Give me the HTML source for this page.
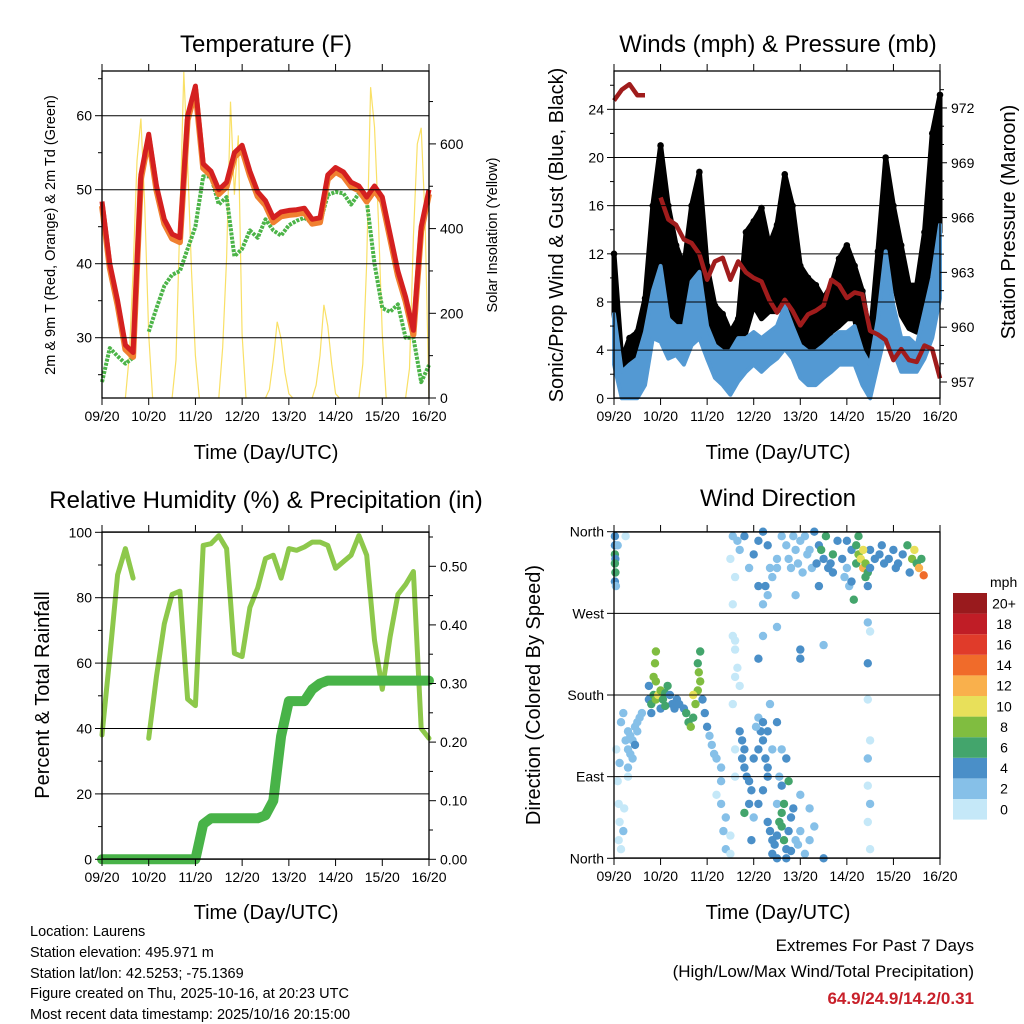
<!DOCTYPE html>
<html><head><meta charset="utf-8"><style>
html,body{margin:0;padding:0;background:#fff;}
svg{display:block;font-family:"Liberation Sans",Arial,sans-serif;}
</style></head><body>
<svg id="chart" width="1024" height="1024" viewBox="0 0 1024 1024" xmlns="http://www.w3.org/2000/svg">
<rect x="0" y="0" width="1024" height="1024" fill="#fff"/>
<text x="266" y="52" font-size="24" text-anchor="middle">Temperature (F)</text>
<text x="778" y="52" font-size="24" text-anchor="middle">Winds (mph) &amp; Pressure (mb)</text>
<text x="266" y="508" font-size="24" text-anchor="middle">Relative Humidity (%) &amp; Precipitation (in)</text>
<text x="778" y="506" font-size="24" text-anchor="middle">Wind Direction</text>
<text x="266" y="459" font-size="20" text-anchor="middle">Time (Day/UTC)</text>
<text x="778" y="459" font-size="20" text-anchor="middle">Time (Day/UTC)</text>
<text x="266" y="919" font-size="20" text-anchor="middle">Time (Day/UTC)</text>
<text x="778" y="919" font-size="20" text-anchor="middle">Time (Day/UTC)</text>
<text transform="translate(55,235) rotate(-90)" font-size="14.5" text-anchor="middle">2m &amp; 9m T (Red, Orange) &amp; 2m Td (Green)</text>
<text transform="translate(497,235) rotate(-90)" font-size="14.5" text-anchor="middle">Solar Insolation (Yellow)</text>
<text transform="translate(563,235) rotate(-90)" font-size="20" text-anchor="middle">Sonic/Prop Wind &amp; Gust (Blue, Black)</text>
<text transform="translate(1015,222) rotate(-90)" font-size="20" text-anchor="middle">Station Pressure (Maroon)</text>
<text transform="translate(49,695) rotate(-90)" font-size="20" text-anchor="middle">Percent &amp; Total Rainfall</text>
<text transform="translate(540,695) rotate(-90)" font-size="20" text-anchor="middle">Direction (Colored By Speed)</text>
<g font-size="14.5">
<text x="30" y="936">Location: Laurens</text>
<text x="30" y="957">Station elevation: 495.971 m</text>
<text x="30" y="978">Station lat/lon: 42.5253; -75.1369</text>
<text x="30" y="998">Figure created on Thu, 2025-10-16, at 20:23 UTC</text>
<text x="30" y="1019">Most recent data timestamp: 2025/10/16 20:15:00</text>
</g>
<text x="974" y="951" font-size="17" text-anchor="end">Extremes For Past 7 Days</text>
<text x="974" y="977" font-size="17" text-anchor="end">(High/Low/Max Wind/Total Precipitation)</text>
<text x="974" y="1004" font-size="17" font-weight="bold" fill="#c8202a" text-anchor="end">64.9/24.9/14.2/0.31</text>
</svg>
<script>
// ---- data (4-hour samples, 7 days) ----
const dayLabels = ["09/20","10/20","11/20","12/20","13/20","14/20","15/20","16/20"];
const temp2m = [48.4,40,35,29,28,52,57.5,50.5,46,44,43.5,60,64,53.5,52.5,50,51,55,56,52.5,49.7,48.5,46.2,47,47.2,47.3,47.5,46,46.2,52,53,52.4,51,50.5,49,50.5,49,44,39,35.5,31,45,50];
const dewPt = [24,28.6,27.5,26.5,27.3,null,30.8,34,37,38.5,39,42,45,51.8,51.8,48,49,41,42,44.5,43.5,46,44.5,43.8,45.2,45.8,46.2,45.5,45.5,49.3,49.7,49.5,48,49.5,48.5,40,34,33.5,34.5,30,30,24,26.3];
const solarHours = [14,16,18,20,22,24];
const solarByDay = [[100,300,560,660,450,150],[90,420,770,560,300,100],[120,330,700,480,620,150],[20,90,180,140,60,10],[30,100,220,170,80,10],[80,320,734,640,420,150],[70,380,600,638,420,0]];
const gustHi = [12,3.2,5,5.5,8.3,16,21,16,12.7,11,16,18.8,11,7.7,7,5.5,6.6,13.8,14.7,15.8,12.7,14.4,18.6,16,11,10,9.4,8.3,9.4,11.6,12.7,11,8.9,5,12.2,20,16,12.7,9.4,9.4,13.8,22,25.2];
const gustLo = [7,1,1.7,2.2,4.1,9.7,11,7.7,6,5.5,6,8.3,5.5,2.8,2.2,1.7,2.5,5.5,7.7,6.6,7.2,7.2,7.7,6.6,5,3.3,3.9,4.4,5.5,6,6.6,6.6,3.3,1.9,6.9,11,9.7,6.9,5.8,5.5,6.6,12.2,13.8];
const windHi = [7,2.2,2.8,3.3,5.5,8.9,11,6.6,6,6,9.7,10.5,6,4.4,3.9,3.9,5,5,5.5,5,5.5,6,7.7,6,4.4,3.9,3.9,4.4,5,5.5,5.5,6,3.9,2.8,6.6,12.2,7.7,5,5,4.4,7.2,10,14.4];
const windLo = [2.8,0,0,0,1.1,5,4.7,3.3,3.6,2.8,4.4,5,3.3,1.7,1.1,0.3,1.4,2.2,2.8,2.2,2.8,3.3,4.1,3.3,1.7,1.1,1.1,1.7,2.2,2.8,2.8,2.8,1.1,0,2.8,5.5,3.9,2.2,2.2,2.2,3.3,5,8.3];
const pressure = [972.4,973.0,973.3,972.7,972.7,null,967.1,965.9,965.6,964.8,964.6,964.0,962.6,963.6,963.8,962.6,963.6,963.0,962.7,962.5,961.5,960.8,961.5,960.9,960.1,960.7,960.9,961.2,962.6,962.3,961.6,961.9,961.8,959.8,959.6,959.3,958.2,958.8,958.2,958.1,959.0,958.8,957.2];
const relHum = [38,62,87,95,86,null,37,56,72,81,82,49,47,96,96.5,99,95,63,62,77,83,92,93,86,95,94.5,95.5,97,97,96,89,91,93,99,93,67,52,68,81,84,88,40,37];
const precip = [0,0,0,0,0,0,0,0,0,0,0,0,0,0.06,0.07,0.07,0.07,0.07,0.07,0.07,0.07,0.075,0.10,0.21,0.27,0.27,0.27,0.29,0.30,0.305,0.305,0.305,0.305,0.305,0.305,0.305,0.305,0.305,0.305,0.305,0.305,0.305,0.305];
const dirObs = [
[0.02,355,4],[0.02,345,4],[0.02,335,6],[0.03,330,4],[0.02,325,6],[0.03,315,6],[0.02,305,4],[0.04,300,2],[0.08,345,2],[0.25,355,0],
[0.05,120,0],[0.08,85,0],[0.1,60,0],[0.12,40,0],[0.1,20,0],[0.15,10,0],[0.2,30,2],[0.22,55,0],[0.3,90,0],[0.3,120,2],[0.25,130,2],[0.3,140,2],[0.35,135,2],[0.4,130,2],[0.45,145,2],[0.5,150,2],[0.55,155,2],[0.35,115,2],[0.4,110,2],[0.45,125,4],[0.5,140,2],[0.6,160,2],[0.15,150,2],[0.2,160,2],[0.12,105,2],[0.3,100,2],
[0.75,175,4],[0.8,170,6],[0.85,180,6],[0.9,175,8],[0.95,180,10],[1.0,185,8],[1.05,175,6],[0.9,195,8],[0.85,200,8],[0.88,215,8],[0.9,228,8],[0.8,160,4],[0.75,190,4],[1.1,182,6],[1.15,190,6],[1.2,180,4],[1.25,170,4],[1.3,165,4],[1.35,175,4],[1.4,170,4],[1.5,165,4],[1.55,160,6],[1.6,150,6],[1.65,145,8],[1.7,155,6],[1.75,170,8],[1.8,185,8],[1.85,195,8],[1.8,215,6],[1.85,228,6],[1.82,205,8],[1.7,180,10],[1.9,175,4],[1.95,160,4],[2.0,145,4],[1.0,165,4],[1.1,168,6],
[2.05,135,2],[2.1,125,2],[2.15,115,2],[2.2,110,2],[2.3,100,2],[2.3,85,2],[2.2,70,0],[2.3,60,2],[2.4,45,2],[2.35,30,2],[2.4,10,2],[2.5,25,0],[2.5,5,0],[2.6,90,0],[2.6,120,0],[2.55,170,0],[2.6,200,0],[2.6,240,0],[2.55,280,0],[2.6,310,0],[2.5,330,0],[2.65,350,2],[2.65,210,0],[2.6,230,0],[2.7,190,0],[2.55,245,0],
[2.7,140,4],[2.75,130,4],[2.8,120,4],[2.75,110,4],[2.8,100,4],[2.85,90,4],[2.9,85,4],[2.95,75,4],[3.0,110,4],[3.1,120,4],[3.15,140,4],[3.2,130,4],[3.25,110,4],[3.3,100,4],[3.05,145,2],[3.1,155,2],[3.2,150,4],[3.3,90,4],[2.9,60,4],[3.0,45,2],[3.1,60,4],[3.2,75,4],[3.35,170,2],[3.5,150,4],[3.6,120,2],[3.55,90,2],[3.1,220,4],[3.2,245,2],[3.2,280,2],[3.25,300,4],[3.5,320,2],[2.95,20,4],[2.8,50,6],[3.3,140,4],[3.4,120,2],
[3.3,40,4],[3.35,30,4],[3.4,20,4],[3.45,15,4],[3.5,25,4],[3.55,40,6],[3.6,35,6],[3.65,20,6],[3.7,10,4],[3.75,30,4],[3.8,45,4],[3.85,55,4],[3.9,20,2],[3.95,15,2],[4.0,30,2],[4.1,5,2],[4.2,20,2],[4.3,35,2],[3.4,5,4],[3.5,0,4],[3.7,0,4],[3.75,85,6],[3.7,110,4],[3.6,80,4],[4.0,70,2],[3.8,8,4],[3.5,60,2],[4.2,55,2],[4.5,0,4],[3.6,50,6],[3.65,60,6],
[2.55,355,2],[2.7,340,2],[2.8,355,4],[2.9,320,2],[3.0,335,4],[3.1,350,4],[3.2,360,4],[3.3,345,4],[3.35,320,2],[3.1,300,4],[3.4,310,2],[3.5,330,2],[3.6,355,2],[3.7,345,2],[3.75,330,2],[3.8,320,2],[3.9,340,2],[4.0,350,2],[4.1,355,2],[4.2,340,2],[4.3,360,4],[4.4,345,4],[4.5,330,4],[4.6,320,4],[4.7,335,6],[4.8,350,4],[3.85,355,2],[3.95,325,2],[4.05,315,2],[4.15,335,2],[4.25,320,2],[4.35,325,4],[4.45,340,6],[4.55,355,6],[4.65,325,4],[3.3,290,2],[3.9,290,2],[4.4,300,4],[4.0,230,4],[4.0,220,4],[4.5,235,2],[3.5,255,2],[4.7,315,4],
[4.9,330,4],[5.0,320,2],[5.05,300,2],[5.1,340,4],[5.2,325,6],[5.25,335,8],[5.3,330,10],[5.35,320,12],[5.4,325,8],[5.45,315,6],[5.5,340,4],[5.6,330,4],[5.7,335,4],[5.8,325,4],[5.9,330,4],[6.0,340,4],[6.1,325,4],[6.2,335,4],[6.3,345,6],[6.4,330,8],[6.45,340,10],[6.5,325,6],[6.55,320,12],[6.6,330,6],[6.65,312,14],[5.2,345,6],[5.35,340,10],[5.4,310,6],[5.1,305,4],[5.0,350,4],[5.5,320,4],[5.75,345,4],[6.35,315,4],[6.05,320,4],[5.25,355,6],[4.95,310,2],[5.15,285,6],[5.45,300,4],
[5.45,260,2],[5.5,250,0],[5.45,215,4],[5.45,110,2],[5.5,130,0],[5.45,80,0],[5.5,60,2],[5.45,40,0],[5.5,10,0],[5.45,175,0]
];
const dirDay = dirObs.map(p => p[0]);
const dirDeg = dirObs.map(p => p[1]);
const dirSpd = dirObs.map(p => p[2]);
const speedLabels = ["0","2","4","6","8","10","12","14","16","18","20+"];
const speedColors = ["#c5e8f8","#86c0e8","#4a8fc8","#43a56c","#80bd40","#e8e05a","#f9b04c","#f06b2a","#e03b2a","#c01d26","#991a1d"];
const tempTicks = [30,40,50,60];
const solarTicks = [0,200,400,600];
const windTicks = [0,4,8,12,16,20,24];
const presTicks = [957,960,963,966,969,972];
const rhTicks = [0,20,40,60,80,100];
const prTicks = ["0.00","0.10","0.20","0.30","0.40","0.50"];
const dirTicks = [0,90,180,270,360];
const dirNames = ["North","East","South","West","North"];

// ---- geometry ----
const NS = "http://www.w3.org/2000/svg";
const svg = document.getElementById("chart");
const STEP = 1/6;
const P1 = {x0:102,x1:429,y0:71,y1:398};
const P2 = {x0:614,x1:940,y0:71,y1:398};
const P3 = {x0:102,x1:429,y0:532,y1:859};
const P4 = {x0:614,x1:940,y0:532,y1:858};
function xs(P, d){ return P.x0 + d/7*(P.x1-P.x0); }
const yT = v => 115.7 + (60-v)*7.4;
const yS = v => 398 - v*0.4235;
const yW = v => 398.3 - v*12.04;
const yP = v => 382 - (v-957)*18.27;
const yRH = v => 859.3 - v*3.27;
const yPr = v => 859.3 - v*586;
const yD = v => 858.3 - v*0.9072;
function el(tag, attrs, parent){
  const e = document.createElementNS(NS, tag);
  for (const k in attrs) e.setAttribute(k, attrs[k]);
  (parent||svg).appendChild(e);
  return e;
}
function linePath(P, arr, yf){
  let d = "", pen = false;
  arr.forEach((v,i)=>{
    if (v === null){ pen = false; return; }
    d += (pen ? "L" : "M") + xs(P,i*STEP).toFixed(1) + " " + yf(v).toFixed(1);
    pen = true;
  });
  return d;
}
function band(P, hi, lo, yf){
  let d = "";
  hi.forEach((v,i)=>{ d += (i?"L":"M") + xs(P,i*STEP).toFixed(1)+" "+yf(v).toFixed(1); });
  for (let i=lo.length-1;i>=0;i--) d += "L" + xs(P,i*STEP).toFixed(1)+" "+yf(lo[i]).toFixed(1);
  return d + "Z";
}
function frame(P, name, gridVals, yf, leftLabels, leftMinor, rightVals, yr, rightLabels, rightMinor){
  const g = el("g", {});
  
  
  gridVals.forEach((v,i)=>{
    const y = yf(v);
    const gl = el("line", {x1:P.x0, x2:P.x1, y1:y, y2:y, stroke:"#000", "stroke-width":1}, g);
    
    
    const t = el("line", {x1:P.x0-7, x2:P.x0, y1:y, y2:y, stroke:"#000"}, g);
    
    
    const tx = el("text", {x:P.x0-10, y:y+5, "font-size":14, "text-anchor":"end"}, g);
    
    
    tx.textContent = leftLabels[i];
  });
  leftMinor.forEach(v=>{
    const y = yf(v);
    const t = el("line", {x1:P.x0-4, x2:P.x0, y1:y, y2:y, stroke:"#000"}, g);
    
    
  });
  if (rightVals){
    rightVals.forEach((v,i)=>{
      const y = yr(v);
      const t = el("line", {x1:P.x1, x2:P.x1+7, y1:y, y2:y, stroke:"#000"}, g);
      
      
      const tx = el("text", {x:P.x1+11, y:y+5, "font-size":14}, g);
      
      
      tx.textContent = rightLabels[i];
    });
    rightMinor.forEach(v=>{
      const y = yr(v);
      const t = el("line", {x1:P.x1, x2:P.x1+4, y1:y, y2:y, stroke:"#000"}, g);
      
      
    });
  }
  dayLabels.forEach((lab,i)=>{
    const x = xs(P,i);
    const tb = el("line", {x1:x, x2:x, y1:P.y1, y2:P.y1+7, stroke:"#000"}, g);
    
    
    const tt = el("line", {x1:x, x2:x, y1:P.y0-7, y2:P.y0, stroke:"#000"}, g);
    
    
    const tx = el("text", {x:x, y:P.y1+23, "font-size":14, "text-anchor":"middle"}, g);
    
    
    tx.textContent = lab;
  });
  const b = el("rect", {x:P.x0, y:P.y0, width:P.x1-P.x0, height:P.y1-P.y0, fill:"none", stroke:"#000", "stroke-width":1.3}, g);
  
  
}

// ---- Panel 1: temperature ----
const g1 = el("g", {});


solarByDay.forEach((vals,dayI)=>{
  let d = "M" + xs(P1, dayI + 12/24).toFixed(1) + " " + yS(0);
  vals.forEach((v,j)=>{ d += "L" + xs(P1, dayI + solarHours[j]/24).toFixed(1) + " " + yS(v).toFixed(1); });
  d += "L" + xs(P1, Math.min(7, dayI + 26/24)).toFixed(1) + " " + yS(0);
  const s = el("path", {d:d, fill:"none", stroke:"#f7d840", "stroke-width":1.2, opacity:0.8}, g1);
  
  
});
const dew = el("path", {d:linePath(P1, dewPt, yT), fill:"none", stroke:"#4cb448", "stroke-width":4, "stroke-dasharray":"3 1.2", "stroke-linejoin":"round"}, g1);


const t9 = el("path", {d:linePath(P1, temp2m.map(v=>v-0.6), yT), fill:"none", stroke:"#f08030", "stroke-width":6, "stroke-linejoin":"round"}, g1);


const t2 = el("path", {d:linePath(P1, temp2m, yT), fill:"none", stroke:"#d42020", "stroke-width":5, "stroke-linejoin":"round"}, g1);


frame(P1, "temperature", tempTicks, yT, tempTicks.map(String), [25,35,45,55,65], solarTicks, yS, solarTicks.map(String), [100,300,500,700]);

// ---- Panel 2: winds ----
const g2 = el("g", {});


const gb = el("path", {d:band(P2, gustHi, gustLo, yW), fill:"#000", stroke:"#000", "stroke-width":5, "stroke-linejoin":"round"}, g2);


gustHi.forEach((v,i)=>{
  const c = el("circle", {cx:xs(P2,i*STEP), cy:yW(v), r:3.3, fill:"#000"}, g2);
  
  
});
const wb = el("path", {d:band(P2, windHi, windLo, yW), fill:"#5399d3", stroke:"#5399d3", "stroke-width":4, "stroke-linejoin":"round"}, g2);


const pl = el("path", {d:linePath(P2, pressure, yP), fill:"none", stroke:"#a01c1c", "stroke-width":4.5, "stroke-linejoin":"round"}, g2);


frame(P2, "winds", windTicks, yW, windTicks.map(String), [2,6,10,14,18,22,26], presTicks, yP, presTicks.map(String), [958,959,961,962,964,965,967,968,970,971,973]);

// ---- Panel 3: humidity ----
const g3 = el("g", {});


const rh = el("path", {d:linePath(P3, relHum, yRH), fill:"none", stroke:"#8dc84b", "stroke-width":5, "stroke-linejoin":"round", "stroke-linecap":"round"}, g3);


const pr = el("path", {d:linePath(P3, precip, yPr), fill:"none", stroke:"#48b348", "stroke-width":10, "stroke-linejoin":"round", "stroke-linecap":"round"}, g3);


frame(P3, "humidity", rhTicks, yRH, rhTicks.map(String), [10,30,50,70,90], prTicks.map(Number), yPr, prTicks, [0.05,0.15,0.25,0.35,0.45,0.55]);

// ---- Panel 4: wind direction ----
const g4 = el("g", {});


frame(P4, "direction", dirTicks, yD, dirNames, [], null);
dirDay.forEach((d,i)=>{
  const ci = Math.min(10, Math.round(dirSpd[i]/2));
  const c = el("circle", {cx:xs(P4,d).toFixed(1), cy:yD(dirDeg[i]).toFixed(1), r:4.2, fill:speedColors[ci]}, g4);
  
  
});

// ---- colorbar ----
const cb = el("g", {});


const cbTop = 593, cbH = 20.6;
const mphT = el("text", {x:990, y:587, "font-size":14}, cb);


mphT.textContent = "mph";
speedLabels.forEach((lab,i)=>{
  const k = speedLabels.length-1-i;
  const y = cbTop + k*cbH;
  const r = el("rect", {x:953, y:y, width:34, height:cbH, fill:speedColors[i]}, cb);
  
  
  const t = el("text", {x:1004, y:y+cbH/2+5, "font-size":14, "text-anchor":"middle"}, cb);
  
  
  t.textContent = lab;
});
</script>
</body></html>
